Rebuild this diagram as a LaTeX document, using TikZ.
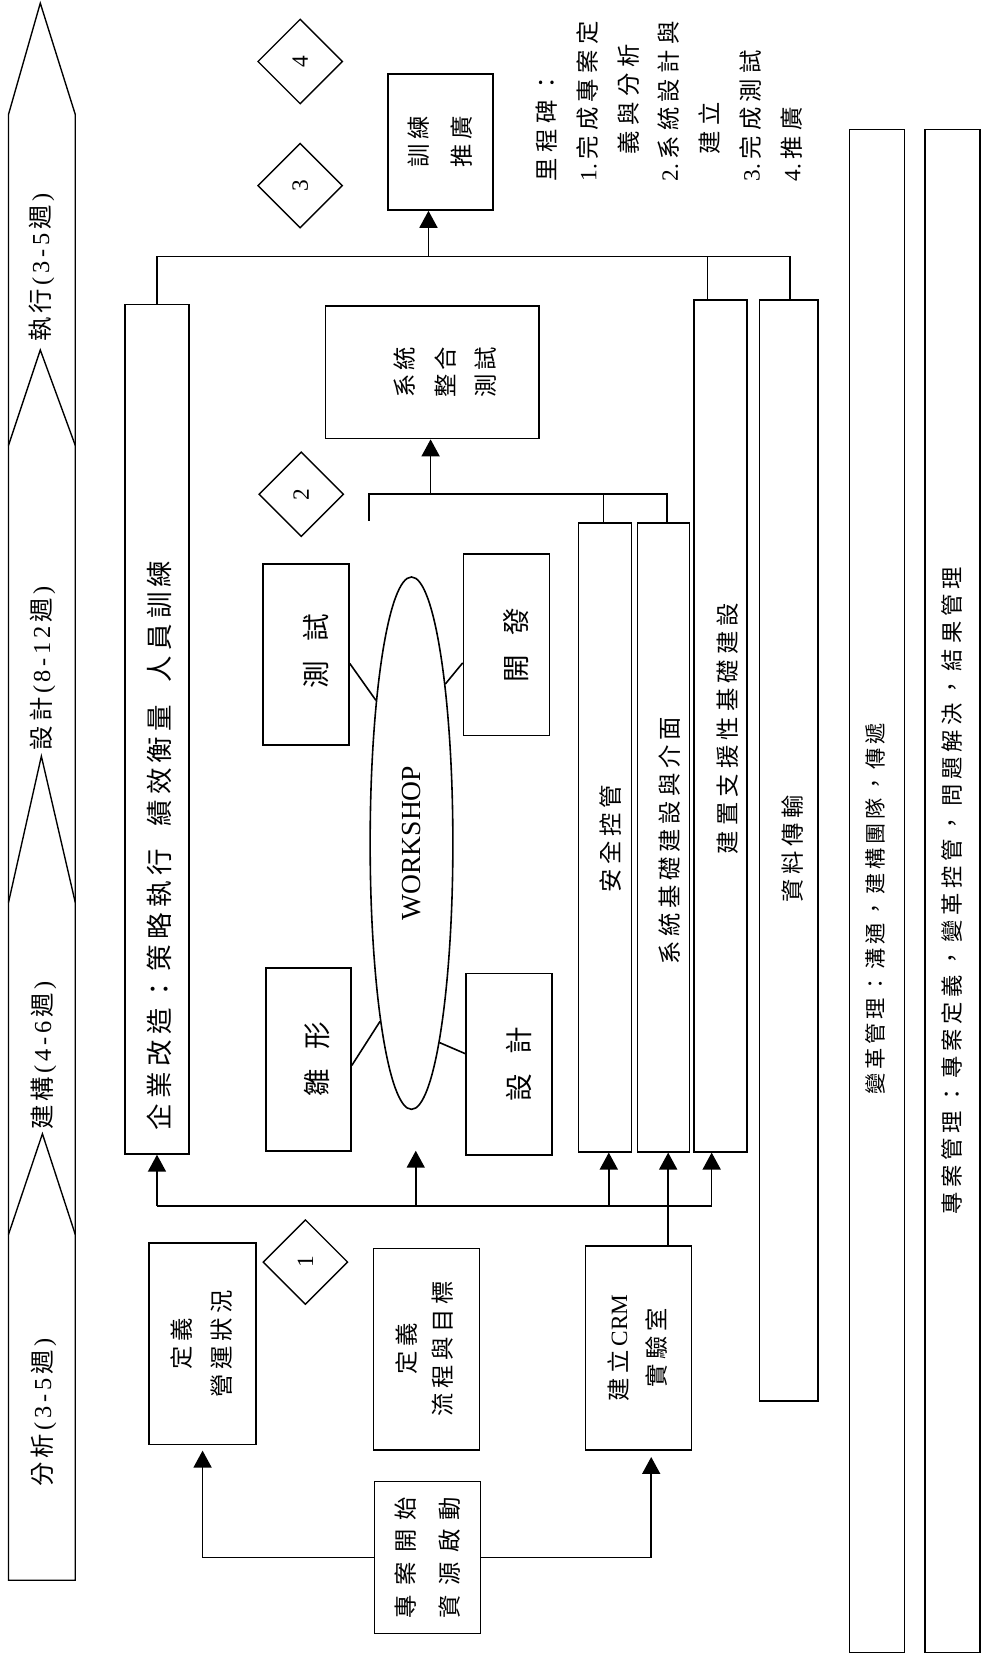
\documentclass[tikz,border=0pt]{standalone}
\usepackage{fontspec}
\setmainfont{Liberation Serif}
\newfontfamily\cjk{Noto Sans CJK TC}
\usetikzlibrary{shapes.geometric,arrows.meta,calc}
\newcommand{\cj}[2]{{\cjk\addfontfeature{LetterSpace=#1}#2}}
\newcommand{\lt}[2]{{\rmfamily\addfontfeature{LetterSpace=#1}#2}}
\newcommand{\fsz}[2]{\fontsize{#1}{#2}\selectfont}
\newcommand{\rtab}[3]{\rotatebox{90}{\fsz{#1}{#2}\begin{tabular}{@{}c@{}}#3\end{tabular}}}
\newcommand{\gp}{\hspace{3.5pt}}
\newcommand{\phlab}[2]{\rotatebox{90}{\fsz{23}{27}{\cjk #1}\gp\lt{0}{(\gp#2}\gp{\cjk 週}\gp\lt{0}{)}}}
\begin{document}
\begin{tikzpicture}[x=1pt,y=-1pt,line width=1.5pt,
  box/.style={draw,rectangle,inner sep=0pt,line width=1.5pt},
  arr/.style={-{Triangle[width=17pt,length=16pt]}},
  dia/.style={draw,diamond,inner sep=0pt,minimum width=80pt,minimum height=80pt,line width=1.3pt},
  lbl/.style={inner sep=0pt}]
\fill[white] (0,0) rectangle (928,1568);
\useasboundingbox (0,0) rectangle (928,1568);

% phase arrow
\draw[line width=1.3pt] (8,1490) -- (8,108) -- (38,3) -- (71,108) -- (71,1490) -- cycle;
\draw[line width=1.3pt] (8,420) -- (38,330) -- (71,420);
\draw[line width=1.3pt] (8,851) -- (39,713) -- (71,851);
\draw[line width=1.3pt] (8,1164) -- (40,1069) -- (71,1164);
\node[lbl] (ph4) at (39,252) {\phlab{執\gp 行}{3\gp-\gp5}};
\node[lbl] (ph3) at (40,630) {\phlab{設\gp 計}{8\gp-\gp1\gp2}};
\node[lbl] (ph2) at (41,995) {\phlab{建\gp 構}{4\gp-\gp6}};
\node[lbl] (ph1) at (41,1332) {\phlab{分\gp 析}{3\gp-\gp5}};

% diamonds
\node[dia] (d4) at (283,58) {\rotatebox{90}{\fsz{22}{26}4}};
\node[dia] (d3) at (283,175) {\rotatebox{90}{\fsz{22}{26}3}};
\node[dia] (d2) at (284,466) {\rotatebox{90}{\fsz{22}{26}2}};
\node[dia] (d1) at (288,1190) {\rotatebox{90}{\fsz{22}{26}1}};

% milestones
\node[anchor=south west,inner sep=0pt] (ms) at (496,172) {\rotatebox{90}{\fsz{22}{38.5}\begin{tabular}{@{}l@{}}\cj{24}{里程碑：}\\ \lt{0}{1.}\hspace{4pt}\cj{24}{完成專案定}\\ \hspace*{26pt}\cj{24}{義與分析}\\ \lt{0}{2.}\hspace{4pt}\cj{24}{系統設計與}\\ \hspace*{26pt}\cj{24}{建立}\\ \lt{0}{3.}\hspace{4pt}\cj{24}{完成測試}\\ \lt{0}{4.}\hspace{4pt}\cj{24}{推廣}\end{tabular}}};

% upper boxes
\node[box,minimum width=99pt,minimum height=128pt] (train) at (415.5,134) {\rtab{22}{40}{\cj{20}{訓練}\\\cj{20}{推廣}}};
\node[box,minimum width=201pt,minimum height=125pt] (sysint) at (407.5,351) {};
\node[lbl] (sysintt) at ([xshift=13pt]sysint.center) {\rtab{22}{38}{\cj{15}{系統}\\\cj{15}{整合}\\\cj{15}{測試}}};
\node[box,minimum width=60pt,minimum height=801pt] (ent) at (148,687.5) {};
\node[lbl] (entt) at (150,797) {\rotatebox{90}{\fsz{25}{30}\cj{20}{企業改造：策略執行}\hspace{21pt}\cj{20}{績效衡量}\hspace{21pt}\cj{20}{人員訓練}}};

% workshop group
\node[box,minimum width=81pt,minimum height=171pt] (test) at (288.5,617) {};
\node[lbl] (testt) at ([xshift=9pt,yshift=3pt]test.center) {\rotatebox{90}{\fsz{26}{30}\cj{70}{測試}}};
\node[box,minimum width=81pt,minimum height=171pt] (dev) at (477.5,608) {};
\node[lbl] (devt) at ([xshift=9pt]dev.center) {\rotatebox{90}{\fsz{26}{30}\cj{70}{開發}}};
\node[box,minimum width=80pt,minimum height=173pt] (proto) at (291,999) {};
\node[lbl] (protot) at ([xshift=8pt]proto.center) {\rotatebox{90}{\fsz{26}{30}\cj{70}{雛形}}};
\node[box,minimum width=81pt,minimum height=171pt] (design) at (480,1003.5) {};
\node[lbl] (designt) at ([xshift=9pt]design.center) {\rotatebox{90}{\fsz{26}{30}\cj{70}{設計}}};
\node[draw,ellipse,minimum width=78pt,minimum height=502pt,inner sep=0pt,line width=1.5pt] (ws) at (388,795) {\rotatebox{90}{\fsz{26}{30}WORKSHOP}};

% vertical bars
\node[box,minimum width=50pt,minimum height=593pt] (sec) at (570.5,789.5) {};
\node[lbl] (sect) at (576,791) {\rotatebox{90}{\fsz{22}{26}\cj{20}{安全控管}}};
\node[box,minimum width=49pt,minimum height=593pt] (sysb) at (625.5,789.5) {};
\node[lbl] (sysbt) at (631,793) {\rotatebox{90}{\fsz{22}{26}\cj{20}{系統基礎建設與介面}}};
\node[box,minimum width=50pt,minimum height=803pt] (supp) at (679.5,684.5) {};
\node[lbl] (suppt) at (686,687) {\rotatebox{90}{\fsz{22}{26}\cj{22}{建置支援性基礎建設}}};
\node[box,minimum width=55pt,minimum height=1038pt] (data) at (743.5,802) {};
\node[lbl] (datat) at (747,800) {\rotatebox{90}{\fsz{22}{26}\cj{20}{資料傳輸}}};
\node[box,minimum width=52pt,minimum height=1436pt] (chg) at (827,840) {};
\node[lbl] (chgt) at (825,857) {\rotatebox{90}{\fsz{20}{24}\cj{18}{變革管理：溝通，建構團隊，傳遞}}};
\node[box,minimum width=52pt,minimum height=1436pt] (proj) at (898,840) {\rotatebox{90}{\fsz{21}{24}\cj{22}{專案管理：專案定義，變革控管，問題解決，結果管理}}};

% lower boxes
\node[box,minimum width=101pt,minimum height=190pt] (defop) at (191,1267) {\rtab{22}{37}{\cj{20}{定義}\\\cj{20}{營運狀況}}};
\node[box,minimum width=100pt,minimum height=190pt] (defflow) at (402,1272) {\rtab{22}{34}{\cj{20}{定義}\\\cj{20}{流程與目標}}};
\node[box,minimum width=100pt,minimum height=192pt] (crm) at (602,1271) {\rtab{22}{36}{\cj{20}{建立}\,\lt{0}{CRM}\\\cj{20}{實驗室}}};
\node[box,minimum width=100pt,minimum height=143pt] (start) at (403,1468.5) {\rtab{22}{42}{\cj{40}{專案開始}\\\cj{40}{資源啟動}}};

% top connector
\coordinate (tl) at (148,242);
\coordinate (tr) at (745,242);
\coordinate (tm) at (404,242);
\coordinate (ts) at (667,242);
\draw (ent.north) -- (tl) -- (tr) -- (tr |- data.north);
\draw (ts) -- (ts |- supp.north);
\draw[arr] (tm) -- (tm |- train.south);

% middle connector
\coordinate (ml) at (348,466);
\coordinate (mr) at (629,466);
\coordinate (mm) at (406,466);
\coordinate (ms) at (569,466);
\coordinate (mle) at (348,491);
\draw (mle) -- (ml) -- (mr) -- (mr |- sysb.north);
\draw (ms) -- (ms |- sec.north);
\draw[arr] (mm) -- (mm |- sysint.south);

% bottom connector
\coordinate (b0) at (148,1137);
\coordinate (b1) at (392,1137);
\coordinate (b2) at (574,1137);
\coordinate (b4) at (630,1137);
\coordinate (b5) at (671,1137);
\coordinate (wsin) at (392,1085);
\draw (b0) -- (b5);
\draw[arr] (b0) -- (ent.south);
\draw[arr] (b1) -- (wsin);
\draw[arr] (b2) -- (b2 |- sec.south);
\draw[arr] (b4 |- crm.north) -- (b4 |- sysb.south);
\draw[arr] (b5) -- (b5 |- supp.south);

% start arrows
\draw[arr,shorten >=5pt] (start.west) -| (defop.south);
\draw[arr,shorten >=6pt] (start.east) -| ([xshift=12pt]crm.south);

% workshop spokes
\draw ([yshift=-8.5pt]test.east) -- (ws.104);
\draw ([yshift=-17pt]dev.west) -- (ws.78);
\draw ([yshift=-5.5pt]proto.east) -- (ws.260);
\draw ([yshift=10pt]design.west) -- (ws.278);
\end{tikzpicture}
\end{document}
